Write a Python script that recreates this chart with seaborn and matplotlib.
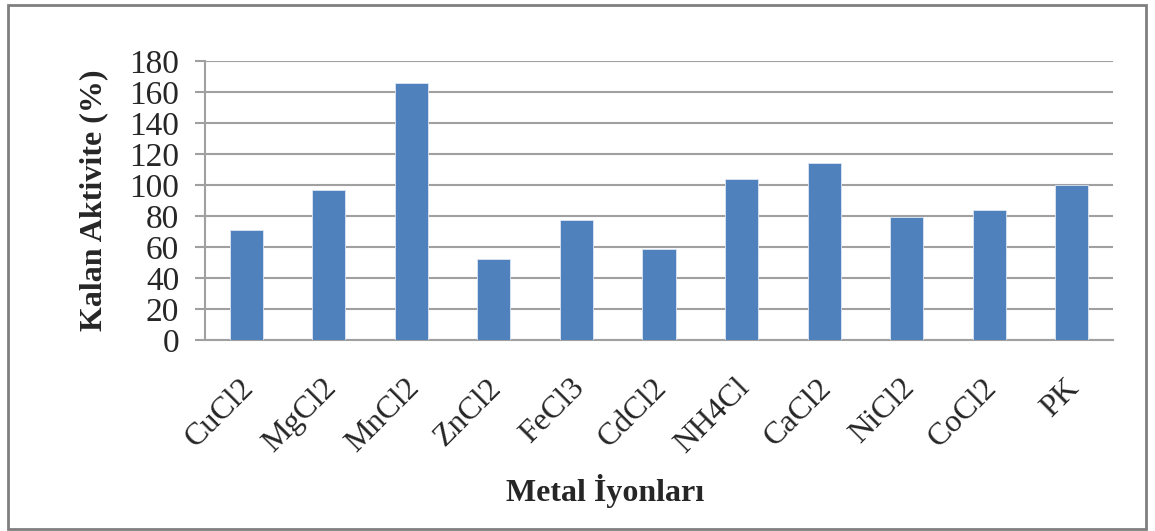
import matplotlib
matplotlib.use("Agg")
import matplotlib.pyplot as plt
import matplotlib.transforms as mtransforms
import seaborn as sns
import pandas as pd
from matplotlib.patches import Rectangle

categories = ["CuCl2", "MgCl2", "MnCl2", "ZnCl2", "FeCl3", "CdCl2",
              "NH4Cl", "CaCl2", "NiCl2", "CoCl2", "PK"]
values = [71, 97, 166, 52.5, 77.5, 58.5, 104, 114, 79.5, 84, 100]
yticks = [0, 20, 40, 60, 80, 100, 120, 140, 160, 180]

sns.set_theme(style="white")
plt.rcParams['font.family'] = ['Liberation Serif', 'DejaVu Serif']

df = pd.DataFrame({"cat": categories, "val": values})

W, H = 1155, 531
fig = plt.figure(figsize=(W / 100, H / 100), dpi=100)
ax = fig.add_axes([205 / W, 1 - 340 / H, (1113 - 205) / W, (340 - 61) / H])

sns.barplot(data=df, x="cat", y="val", color="#4F81BD", width=0.4,
            saturation=1, ax=ax, edgecolor="#DCE6F2", linewidth=0.6, zorder=3)

ax.set_ylim(0, 180)
ax.set_xlim(-0.5, len(categories) - 0.5)
ax.set_yticks(yticks)
ax.set_yticklabels([str(t) for t in yticks], fontsize=24)
ax.yaxis.grid(True, color="#A0A0A0", linewidth=1.5, zorder=0)
ax.set_axisbelow(True)
for s in ["top", "right"]:
    ax.spines[s].set_visible(False)
for s in ["left", "bottom"]:
    ax.spines[s].set_color("#A0A0A0")
    ax.spines[s].set_linewidth(1.5)
ax.tick_params(axis="y", which="major", length=7.5, width=1.5, color="#A0A0A0",
               left=True, pad=11)
ax.tick_params(axis="x", length=0, pad=24)
ax.set_xticks(range(len(categories)))
ax.set_xticklabels(categories, rotation=45, ha="right", va="top",
                   rotation_mode="anchor", fontsize=23)
offset = mtransforms.ScaledTranslation(-7 / 100, 0, fig.dpi_scale_trans)
for lbl in ax.get_xticklabels():
    lbl.set_transform(lbl.get_transform() + offset)

ax.set_xlabel("Metal İyonları", fontsize=23, fontweight="bold")
ax.set_ylabel("Kalan Aktivite (%)", fontsize=23, fontweight="bold")
ax.xaxis.set_label_coords((605 - 205) / 908, (340 - 474) / 279)
ax.yaxis.set_label_coords((108 - 205) / 908, 0.5)

# outer chart frame
fig.patches.append(Rectangle((8 / W, 1 - 529 / H), (1146 - 8) / W, (529 - 5) / H,
                             transform=fig.transFigure, fill=False,
                             edgecolor="#7F7F7F", linewidth=2))

fig.savefig("out.png", dpi=100)
